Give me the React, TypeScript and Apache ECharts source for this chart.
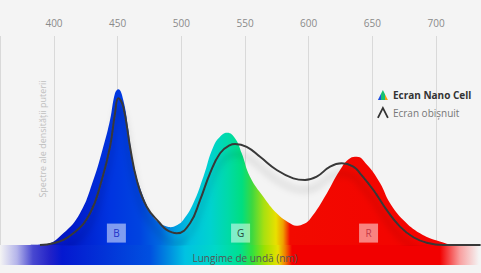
import React, { useEffect, useRef } from "react";
import * as echarts from "echarts";

const tickWavelengths = [400, 450, 500, 550, 600, 650, 700];

const nanoWavelengths = [381, 393, 407.3, 420.4, 430.9, 438.7, 444, 447.9, 450.5, 454.4, 458.4, 462.3, 470.1, 478, 483.2, 488.5, 491.5, 496, 501.5, 509.4, 517.3, 525.1, 531.7, 536.1, 542.1, 547.4, 553.9, 564.4, 574.9, 585.3, 590.1, 595, 601.1, 614.2, 624.6, 632.5, 637.7, 645.6, 656, 663.9, 674.3, 687.4, 700.6, 716.3, 727];
const nanoValues = [0, 0.3, 5.6, 15.2, 31.1, 47, 59.8, 72.6, 74.5, 69.4, 55, 39.1, 23.1, 13.5, 10.4, 8.8, 8.5, 9.3, 12, 20, 32.7, 47, 52.6, 53.7, 51.1, 43.9, 32.7, 23.1, 15.2, 10.4, 9.2, 9.8, 12.5, 24.7, 35.9, 41.5, 42.2, 38.5, 29.7, 20, 12, 5.6, 2.1, 0, 0];

const regularWavelengths = [389, 399.5, 415.2, 428.3, 437.5, 444, 447.9, 450.5, 454.4, 459.7, 465, 472.8, 483.2, 488.5, 496.4, 506.8, 514.7, 522.5, 530.4, 538.2, 542.1, 551.3, 561.8, 574.9, 587.9, 597.1, 606.3, 616.8, 625.9, 635.1, 640.3, 650.8, 661.3, 671.7, 682.2, 692.7, 705.7, 735];
const regularValues = [0, 0.8, 5.6, 15.2, 31.1, 47, 63, 70.2, 66.2, 47, 31.1, 18.3, 10.4, 7.2, 5.6, 10.4, 21.5, 34.3, 43.9, 47.8, 48.3, 47, 42.2, 35.9, 31.9, 31.1, 32.7, 37.5, 39.1, 37.5, 34.3, 26.3, 16.7, 8.8, 3.7, 1.1, 0, 0];

const bandLabels = ["B", "G", "R"];
const bandWavelengths = [449, 546.5, 647];
const bandLevel = 5.7;
const bandTextColors = ["#2232c8", "#2d4a3a", "#c23a48"];

const seriesNames = ["Ecran Nano Cell", "Ecran obișnuit"];
const xAxisTitle = "Lungime de undă (nm)";
const yAxisTitle = "Spectre ale densității puterii";

const W = 481;
const fillStops: [number, string][] = [
  [0, "#0c0ca0"],
  [40, "#0a14b8"],
  [70, "#0018c8"],
  [110, "#0034e0"],
  [140, "#0044e0"],
  [160, "#0068e0"],
  [175, "#009ce0"],
  [190, "#00c2e0"],
  [210, "#00d2d0"],
  [228, "#00daa8"],
  [242, "#00de80"],
  [252, "#3cd840"],
  [264, "#a8e010"],
  [276, "#e8e000"],
  [283, "#f0a000"],
  [290, "#f20a00"],
  [481, "#f40000"],
];
const barStops: [number, string][] = [
  [0, "#f4f4f4"],
  [17, "#b4b4ea"],
  [33, "#4848d0"],
  [50, "#2222c8"],
  [62, "#0418d0"],
  [150, "#0050e0"],
  [170, "#0090e0"],
  [185, "#00c2e2"],
  [215, "#00d8c8"],
  [240, "#00e090"],
  [252, "#30e040"],
  [265, "#a0e000"],
  [278, "#e8e000"],
  [285, "#f08000"],
  [292, "#f20000"],
  [440, "#f20000"],
  [460, "#f8a0a0"],
  [479, "#f4f4f4"],
];

export default function App() {
  const ref = useRef<HTMLDivElement>(null);
  useEffect(() => {
    if (!ref.current) return;
    const chart = echarts.init(ref.current, null, { renderer: "svg" });
    const fill = new echarts.graphic.LinearGradient(
      0, 0, W, 0,
      fillStops.map(([p, c]) => ({ offset: p / W, color: c })),
      true
    );
    const bar = new echarts.graphic.LinearGradient(
      0, 0, 1, 0,
      barStops.map(([p, c]) => ({ offset: p / W, color: c }))
    );
    const iconGrad = new echarts.graphic.LinearGradient(0, 0, 1, 0, [
      { offset: 0, color: "#1e4ee0" },
      { offset: 0.33, color: "#1e4ee0" },
      { offset: 0.34, color: "#18c070" },
      { offset: 0.66, color: "#18c070" },
      { offset: 0.67, color: "#f0a010" },
      { offset: 1, color: "#f0a010" },
    ]);
    const font = "'Open Sans', 'Noto Sans', sans-serif";
    chart.setOption({
      animation: false,
      backgroundColor: "#f4f4f4",
      textStyle: { fontFamily: font },
      grid: { left: 0, right: 0, top: 36, bottom: 28 },
      xAxis: {
        type: "value",
        position: "top",
        min: 357.6,
        max: 735.3,
        splitNumber: 7,
        axisLine: { show: false },
        axisTick: { show: false },
        axisLabel: {
          color: "#8a8a8a",
          fontSize: 10,
          margin: 8,
          showMinLabel: false,
          showMaxLabel: false,
          formatter: (v: number) => (tickWavelengths.includes(v) ? String(v) : ""),
        },
        splitLine: { show: true, lineStyle: { color: "#d9d9d9", width: 1 } },
      },
      yAxis: {
        type: "value",
        min: 0,
        max: 100,
        show: false,
        splitLine: { show: false },
      },
      legend: {
        orient: "vertical",
        left: 372,
        top: 85,
        itemWidth: 10,
        itemHeight: 10,
        itemGap: 7,
        textStyle: { fontSize: 10, fontFamily: font },
        data: [
          {
            name: seriesNames[0],
            icon: "triangle",
            itemStyle: { color: iconGrad },
            textStyle: { fontWeight: "bold", color: "#333" },
          },
          {
            name: seriesNames[1],
            icon: "path://M0,10L5,0L10,10",
            itemStyle: { color: "rgba(0,0,0,0)", borderColor: "#333", borderWidth: 1.8 },
            textStyle: { color: "#777" },
          },
        ],
      },
      graphic: [
        {
          type: "rect",
          z: -1,
          shape: { x: 0, y: 245, width: W, height: 20 },
          style: { fill: bar },
          silent: true,
        },
        {
          type: "text",
          x: 245,
          y: 258,
          z: 10,
          style: {
            text: xAxisTitle,
            fill: "#555",
            fontSize: 10,
            fontFamily: font,
            align: "center",
            verticalAlign: "middle",
          },
        },
        {
          type: "text",
          x: 42,
          y: 139,
          rotation: Math.PI / 2,
          style: {
            text: yAxisTitle,
            fill: "#c0c0c0",
            fontSize: 9,
            fontFamily: font,
            align: "center",
            verticalAlign: "middle",
          },
        },
      ],
      series: [
        {
          name: seriesNames[0],
          type: "line",
          z: 2,
          smooth: 0.45,
          showSymbol: false,
          symbol: "none",
          lineStyle: { width: 0 },
          itemStyle: { color: "#2050e0" },
          areaStyle: { color: fill, opacity: 1 },
          data: nanoWavelengths.map((w, i) => [w, nanoValues[i]]),
          markPoint: {
            symbol: "rect",
            symbolSize: [19, 19],
            itemStyle: { color: "rgba(255,255,255,0.5)" },
            label: { show: true, fontSize: 10, fontFamily: font },
            data: bandLabels.map((b, i) => ({
              name: b,
              coord: [bandWavelengths[i], bandLevel],
              label: { formatter: b, color: bandTextColors[i] },
            })),
          },
        },
        {
          name: seriesNames[1],
          type: "line",
          z: 3,
          smooth: 0.45,
          showSymbol: false,
          symbol: "none",
          itemStyle: { color: "#333" },
          lineStyle: {
            color: "#383838",
            width: 2,
            shadowColor: "rgba(0,0,0,0.28)",
            shadowBlur: 7,
            shadowOffsetY: 10,
          },
          data: regularWavelengths.map((w, i) => [w, regularValues[i]]),
        },
      ],
    });
    return () => chart.dispose();
  }, []);
  return <div ref={ref} style={{ width: 481, height: 273, position: "absolute", left: 0, top: 0 }} />;
}
